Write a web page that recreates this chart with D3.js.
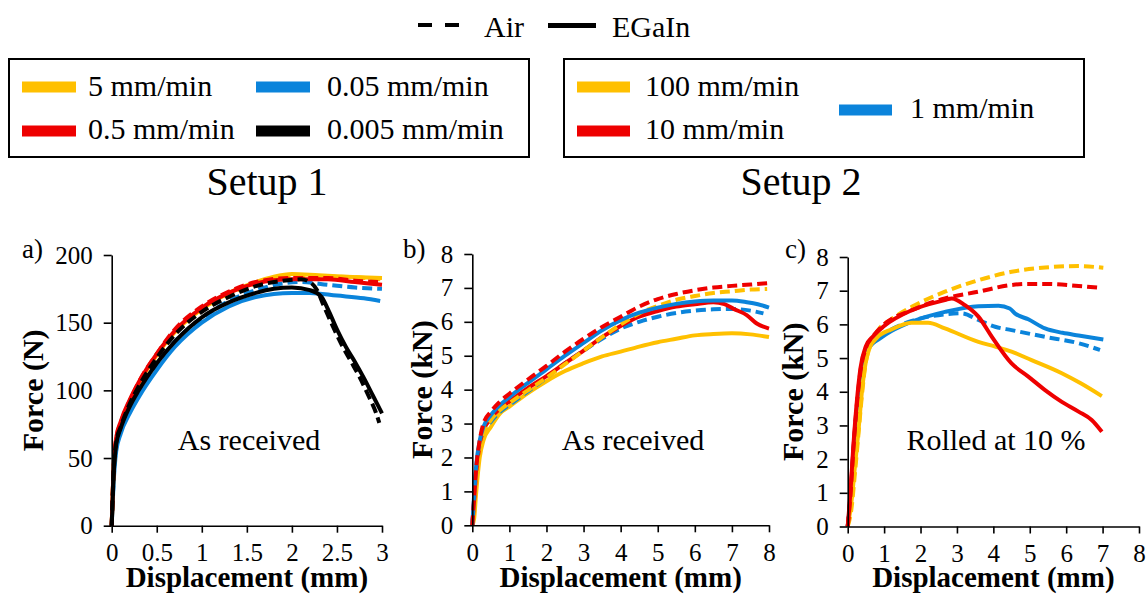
<!DOCTYPE html>
<html><head><meta charset="utf-8">
<script src="https://cdn.jsdelivr.net/npm/d3@7"></script>
<style>
html,body{margin:0;padding:0;background:#fff;}
svg{display:block;}
</style></head>
<body>
<svg id="chart" width="1148" height="594"></svg>
<script>
// ---------- DATA ----------
const colors = {y:"#FFC000", r:"#EE0000", b:"#0B84DB", k:"#000000"};
const legend1Labels = ["5 mm/min","0.5 mm/min","0.05 mm/min","0.005 mm/min"];
const legend2Labels = ["100 mm/min","10 mm/min","1 mm/min"];
const styleLabels = ["Air","EGaIn"];
const panelTitles = ["As received","As received","Rolled at 10 %"];
const panelLetters = ["a)","b)","c)"];
const setupTitles = ["Setup 1","Setup 2"];
const xTicksA = [0,0.5,1,1.5,2,2.5,3];
const yTicksA = [0,50,100,150,200];
const xTicksBC = [0,1,2,3,4,5,6,7,8];
const yTicksBC = [0,1,2,3,4,5,6,7,8];

// Panel a: Force (N) vs displacement (mm)
const a_blue_solid = [[0,0],[0.02,30],[0.05,55],[0.1,68],[0.2,83],[0.3,95],[0.5,115],[0.7,132],[1.0,150],[1.3,162],[1.6,169],[2.0,172],[2.2,172],[2.5,170],[2.8,168],[2.98,166]];
const a_blue_dashed = [[0,0],[0.02,33],[0.05,58],[0.1,70],[0.2,86],[0.3,98],[0.5,118],[0.7,136],[1.0,153],[1.3,166],[1.6,174],[1.9,179],[2.1,180],[2.4,178],[2.7,176],[3.0,175]];
const a_yellow_solid = [[0,0],[0.02,40],[0.05,63],[0.1,75],[0.2,92],[0.3,105],[0.5,126],[0.7,143],[1.0,160],[1.3,172],[1.6,180],[1.8,184],[2.0,186],[2.3,185],[2.6,184],[3.0,183]];
const a_yellow_dashed = [[0,0],[0.02,39],[0.05,62],[0.1,74],[0.2,91],[0.3,104],[0.5,125],[0.7,142],[1.0,159],[1.3,171],[1.6,179],[2.0,184],[2.5,184],[3.0,182]];
const a_red_solid = [[0,0],[0.02,42],[0.05,65],[0.1,77],[0.2,93],[0.3,106],[0.5,127],[0.7,144],[1.0,161],[1.3,172],[1.6,179],[2.0,182],[2.4,182],[2.7,180],[3.0,178]];
const a_red_dashed = [[0,0],[0.02,40],[0.05,64],[0.1,76],[0.2,92],[0.3,106],[0.5,127],[0.7,145],[1.0,162],[1.3,173],[1.6,180],[2.0,183],[2.4,183],[2.7,181],[3.0,180]];
const a_black_solid = [[0,0],[0.02,35],[0.05,60],[0.1,72],[0.2,88],[0.3,100],[0.5,120],[0.7,136],[1.0,154],[1.3,165],[1.6,172],[1.8,175],[2.0,176],[2.2,174],[2.33,169],[2.4,160],[2.5,145],[2.6,132],[2.7,121],[2.8,109],[2.9,96],[3.0,83]];
const a_black_dashed = [[0,0],[0.02,38],[0.05,62],[0.1,73],[0.2,90],[0.3,103],[0.5,124],[0.7,141],[1.0,158],[1.3,169],[1.6,177],[1.9,181],[2.1,182],[2.2,180],[2.28,174],[2.35,163],[2.45,148],[2.55,134],[2.65,122],[2.75,110],[2.85,96],[2.93,84],[2.97,76]];

// Panel b: Force (kN) vs displacement (mm)
const b_yellow_solid = [[0,0],[0.05,0.2],[0.1,0.9],[0.2,2.0],[0.3,2.5],[0.5,2.9],[0.75,3.3],[1.0,3.5],[1.5,3.9],[2,4.25],[2.5,4.55],[3,4.78],[3.5,4.98],[4,5.12],[4.5,5.27],[5,5.4],[5.5,5.5],[6,5.6],[6.5,5.64],[7,5.66],[7.5,5.63],[8,5.55]];
const b_blue_dashed = [[0,0],[0.05,0.8],[0.1,1.6],[0.2,2.4],[0.3,2.75],[0.5,3.05],[0.75,3.35],[1.0,3.55],[1.5,3.95],[2,4.35],[2.5,4.78],[3,5.15],[3.5,5.5],[4,5.8],[4.5,6.0],[5,6.15],[5.5,6.26],[6,6.33],[6.5,6.37],[7,6.38],[7.5,6.33],[7.85,6.25]];
const b_red_solid = [[0,0],[0.05,0.7],[0.1,1.5],[0.2,2.4],[0.3,2.8],[0.5,3.15],[0.75,3.45],[1.0,3.65],[1.5,4.05],[2,4.4],[2.5,4.78],[3,5.15],[3.5,5.55],[4,5.88],[4.5,6.15],[5,6.32],[5.5,6.45],[6,6.52],[6.5,6.58],[6.8,6.52],[7.05,6.38],[7.4,6.2],[7.67,5.95],[8.0,5.8]];
const b_yellow_dashed = [[0,0],[0.05,0.5],[0.1,1.3],[0.2,2.3],[0.3,2.7],[0.5,3.1],[0.75,3.4],[1.0,3.6],[1.5,3.98],[2,4.35],[2.5,4.75],[3,5.15],[3.5,5.55],[4,5.92],[4.5,6.25],[5,6.47],[5.5,6.65],[6,6.76],[6.5,6.85],[7,6.9],[7.5,6.95],[7.95,6.97]];
const b_blue_solid = [[0,0],[0.05,0.9],[0.1,1.7],[0.2,2.5],[0.3,2.9],[0.5,3.25],[0.75,3.55],[1.0,3.78],[1.5,4.2],[2,4.6],[2.5,5.0],[3,5.38],[3.5,5.75],[4,6.05],[4.5,6.27],[5,6.42],[5.5,6.53],[6,6.6],[6.5,6.63],[7,6.63],[7.4,6.58],[7.7,6.52],[8.0,6.42]];
const b_red_dashed = [[0,0],[0.05,0.8],[0.1,1.6],[0.2,2.5],[0.3,3.0],[0.5,3.35],[0.75,3.65],[1.0,3.88],[1.5,4.3],[2,4.7],[2.5,5.12],[3,5.5],[3.5,5.85],[4,6.15],[4.5,6.45],[5,6.67],[5.5,6.82],[6,6.93],[6.5,7.01],[7,7.06],[7.5,7.1],[7.95,7.14]];

// Panel c: Force (kN) vs displacement (mm), rolled at 10 %
const c_yellow_solid = [[0,0],[0.1,0.7],[0.2,1.8],[0.3,2.9],[0.4,4.1],[0.5,4.9],[0.6,5.3],[0.8,5.6],[1.2,5.85],[1.76,6.05],[2.21,6.05],[2.67,5.88],[3.59,5.48],[4.05,5.34],[4.5,5.19],[5.05,4.94],[5.88,4.55],[6.4,4.25],[6.98,3.87]];
const c_blue_dashed = [[0,0],[0.08,0.9],[0.15,2.1],[0.25,3.5],[0.35,4.5],[0.5,5.2],[0.65,5.4],[0.84,5.6],[1.2,5.85],[1.76,6.1],[2.67,6.3],[3.13,6.33],[3.59,6.13],[4.05,5.93],[4.5,5.83],[5.42,5.63],[6.34,5.44],[6.93,5.24]];
const c_blue_solid = [[0,0],[0.08,0.9],[0.15,2.1],[0.25,3.5],[0.35,4.5],[0.5,5.2],[0.65,5.4],[0.84,5.55],[1.2,5.8],[1.76,6.08],[2.67,6.37],[3.59,6.54],[4.14,6.55],[4.45,6.47],[4.6,6.32],[4.96,6.15],[5.42,5.88],[5.9,5.75],[6.34,5.67],[7.02,5.55]];
const c_yellow_dashed = [[0,0],[0.1,0.5],[0.2,1.6],[0.3,2.8],[0.4,4.0],[0.5,4.9],[0.6,5.3],[0.84,5.83],[1.2,6.15],[1.76,6.52],[2.67,6.97],[3.59,7.31],[4.5,7.56],[5.42,7.69],[6.34,7.73],[7.02,7.68]];
const c_red_dashed = [[0,0],[0.08,1.0],[0.15,2.2],[0.25,3.6],[0.35,4.6],[0.5,5.3],[0.7,5.65],[1.0,6.0],[1.76,6.42],[2.67,6.77],[3.59,6.97],[4.5,7.17],[4.96,7.2],[5.42,7.2],[6.34,7.14],[6.88,7.09]];
const c_red_solid = [[0,0],[0.08,1.1],[0.15,2.3],[0.25,3.7],[0.35,4.7],[0.5,5.35],[0.7,5.65],[1.0,5.95],[1.76,6.42],[2.67,6.72],[2.86,6.77],[3.22,6.57],[3.59,6.23],[3.96,5.63],[4.5,4.84],[4.96,4.45],[5.42,4.05],[5.88,3.7],[6.34,3.41],[6.7,3.16],[6.98,2.81]];

// ---------- DRAW ----------
const svg = d3.select("#chart");
const FONT = "Liberation Serif";
function txt(sel){ return sel.style("font-family",FONT).attr("fill","#000"); }

const panels = [
  {x:[111.7,382], xd:[0,3], y:[525.7,255], yd:[0,200], xt:xTicksA, yt:yTicksA, ytitle:"Force (N)", ytx:-69,
   series:[[a_blue_solid,"b",false],[a_blue_dashed,"b",true],[a_yellow_solid,"y",false],[a_yellow_dashed,"y",true],
           [a_red_solid,"r",false],[a_red_dashed,"r",true],[a_black_solid,"k",false],[a_black_dashed,"k",true]],
   letter:[22,258], note:[249,450]},
  {x:[472.3,769], xd:[0,8], y:[525.3,254], yd:[0,8], xt:xTicksBC, yt:yTicksBC, ytitle:"Force (kN)", ytx:-40,
   series:[[b_yellow_solid,"y",false],[b_blue_dashed,"b",true],[b_red_solid,"r",false],[b_yellow_dashed,"y",true],
           [b_blue_solid,"b",false],[b_red_dashed,"r",true]],
   letter:[403,258], note:[633,450]},
  {x:[847.7,1139], xd:[0,8], y:[526.5,257], yd:[0,8], xt:xTicksBC, yt:yTicksBC, ytitle:"Force (kN)", ytx:-45,
   series:[[c_blue_dashed,"b",true],[c_blue_solid,"b",false],[c_yellow_solid,"y",false],[c_yellow_dashed,"y",true],
           [c_red_dashed,"r",true],[c_red_solid,"r",false]],
   letter:[785,258], note:[996,450]}
];

panels.forEach((p,i)=>{
  const xs = d3.scaleLinear().domain(p.xd).range(p.x);
  const ys = d3.scaleLinear().domain(p.yd).range(p.y);
  const g = svg.append("g");

  const line = d3.line().x(d=>xs(d[0])).y(d=>ys(d[1])).curve(d3.curveMonotoneX);
  p.series.forEach(([data,c,dashed])=>{
    g.append("path").attr("d",line(data)).attr("fill","none")
     .attr("stroke",colors[c]).attr("stroke-width",4)
     .attr("stroke-linejoin","round")
     .attr("stroke-dasharray",dashed?"10,5":null);
  });

  const xa = g.append("g").attr("transform",`translate(0,${p.y[0]})`)
    .call(d3.axisBottom(xs).tickValues(p.xt).tickSizeInner(7).tickSizeOuter(0).tickPadding(11).tickFormat(d=>d));
  const ya = g.append("g").attr("transform",`translate(${p.x[0]},0)`)
    .call(d3.axisLeft(ys).tickValues(p.yt).tickSizeInner(8).tickSizeOuter(0).tickPadding(11).tickFormat(d=>d));
  [xa,ya].forEach(a=>{
    a.attr("font-family",null).attr("font-size",null);
    a.selectAll("path,line").attr("stroke","#000").attr("stroke-width",1.6);
    txt(a.selectAll("text")).style("font-size","25px");
  });

  txt(g.append("text")).attr("x",(p.x[0]+p.x[1])/2).attr("y",587).attr("text-anchor","middle")
   .style("font-weight","bold").style("font-size","29px").text("Displacement (mm)");
  txt(g.append("text")).attr("transform",`translate(${p.x[0]+p.ytx},${(p.y[0]+p.y[1])/2}) rotate(-90)`)
   .attr("text-anchor","middle").style("font-weight","bold").style("font-size","30px").text(p.ytitle);
  txt(g.append("text")).attr("x",p.letter[0]).attr("y",p.letter[1]).style("font-size","27px").text(panelLetters[i]);
  txt(g.append("text")).attr("x",p.note[0]).attr("y",p.note[1]).attr("text-anchor","middle")
   .style("font-size","30px").text(panelTitles[i]);
});

[[267,195],[801,195]].forEach((pos,i)=>{
  txt(svg.append("text")).attr("x",pos[0]).attr("y",pos[1]).attr("text-anchor","middle")
    .style("font-size","40px").text(setupTitles[i]);
});

// Top style legend
svg.append("line").attr("x1",418).attr("x2",459).attr("y1",25).attr("y2",25)
  .attr("stroke","#000").attr("stroke-width",4).attr("stroke-dasharray","14,13");
txt(svg.append("text")).attr("x",484).attr("y",37).style("font-size","30px").text(styleLabels[0]);
svg.append("line").attr("x1",548).attr("x2",596).attr("y1",25.5).attr("y2",25.5)
  .attr("stroke","#000").attr("stroke-width",5);
txt(svg.append("text")).attr("x",612).attr("y",37).style("font-size","30px").text(styleLabels[1]);

function legendBox(x,y,w,h){
  svg.append("rect").attr("x",x).attr("y",y).attr("width",w).attr("height",h)
    .attr("fill","none").attr("stroke","#000").attr("stroke-width",2);
}
function legendItem(x1,x2,ly,color,tx,tb,label){
  svg.append("line").attr("x1",x1).attr("x2",x2).attr("y1",ly).attr("y2",ly)
    .attr("stroke",color).attr("stroke-width",11);
  txt(svg.append("text")).attr("x",tx).attr("y",tb).style("font-size","30px").text(label);
}
legendBox(9,59,520,98);
legendItem(22,76,87,colors.y,88,96,legend1Labels[0]);
legendItem(22,76,131,colors.r,88,139,legend1Labels[1]);
legendItem(256,310,87,colors.b,327,96,legend1Labels[2]);
legendItem(256,310,131,colors.k,327,139,legend1Labels[3]);

legendBox(564,59,520,98);
legendItem(577,630,87,colors.y,645,96,legend2Labels[0]);
legendItem(577,630,131,colors.r,645,139,legend2Labels[1]);
legendItem(839,892,110,colors.b,910,118,legend2Labels[2]);
</script>
</body></html>
